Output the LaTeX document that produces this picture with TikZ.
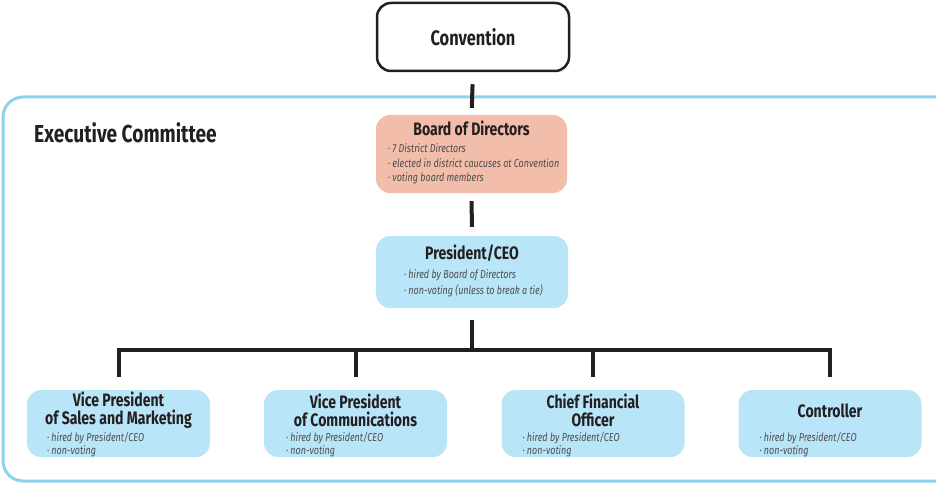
\documentclass[tikz,border=0pt]{standalone}
\usepackage{fontspec}
\setmainfont{Fira Sans}[FakeStretch=0.78]
\usetikzlibrary{positioning}
\definecolor{inkcol}{HTML}{231F20}
\definecolor{notecol}{HTML}{4D4D4D}
\definecolor{framecol}{HTML}{8DD3EE}
\definecolor{boardcol}{HTML}{F2BDAA}
\definecolor{officecol}{HTML}{B9E5F8}
\tikzset{top node/.style={draw=inkcol,line width=2.5pt,fill=white,rounded corners=14pt,minimum width=192pt,minimum height=68pt,font=\bfseries\fontsize{21}{23}\selectfont,text=inkcol},}
\tikzset{board node/.style={fill=boardcol,rounded corners=14pt,minimum width=191pt,minimum height=78pt, inner sep=0pt},}
\tikzset{office node/.style={fill=officecol,rounded corners=14pt,minimum width=183pt,minimum height=67pt, inner sep=0pt},}
\tikzset{box title/.style={font=\bfseries\fontsize{18}{17.5}\selectfont,text=inkcol,align=center,inner sep=0pt},}
\tikzset{box notes/.style={font=\itshape\fontsize{11.5}{14.5}\selectfont,text=notecol,align=left,inner sep=0pt,anchor=north west},}
\tikzset{link/.style={draw=inkcol,line width=4pt},}

\begin{document}
\begin{tikzpicture}[x=1pt,y=-1pt]
     \useasboundingbox (0,0) rectangle (936,484);
     \draw[framecol,line width=3pt,rounded corners=20pt] (3,97) rectangle (960,481);
     \node[font=\bfseries\fontsize{24.5}{26}\selectfont,text=inkcol,anchor=west,inner sep=0pt] (exec) at (34,133) {Executive Committee};

     \node[top node] (conv) at (473,37) {Convention};
     \node[board node] (board) at (471.5,154) {};
     \node[office node,minimum width=192pt,minimum height=72pt] (pres) at (472,272) {};
     \node[office node] (vpsm) at (118.5,423.5) {};
     \node[office node] (vpc) at (355.5,423.5) {};
     \node[office node] (cfo) at (593,423.5) {};
     \node[office node] (ctrl) at (830,423.5) {};

     % titles
     \node[box title] (board t) at ([yshift=-14pt]board.north) {Board of Directors};
     \node[box title] (pres t) at ([yshift=-17pt]pres.north) {President/CEO};
     \node[box title] (vpsm t) at ([yshift=-20.5pt]vpsm.north) {Vice President\\of Sales and Marketing};
     \node[box title] (vpc t) at ([yshift=-20.5pt]vpc.north) {Vice President\\of Communications};
     \node[box title] (cfo t) at ([yshift=-20.5pt]cfo.north) {Chief Financial\\Officer};
     \node[box title] (ctrl t) at ([yshift=-21pt]ctrl.north) {Controller};

     % notes
     \node[box notes] (board n) at ([xshift=12pt,yshift=-29pt]board.north west) {· 7 District Directors\\· elected in district caucuses at Convention\\· voting board members};
     \node[box notes,font=\itshape\fontsize{11.5}{16}\selectfont] (pres n) at ([xshift=28pt,yshift=-34pt]pres.north west) {· hired by Board of Directors\\· non-voting (unless to break a tie)};
     \node[box notes,font=\itshape\fontsize{11.5}{13}\selectfont] (vpsm n) at ([xshift=20pt,yshift=-42pt]vpsm.north west) {· hired by President/CEO\\· non-voting};
     \node[box notes,font=\itshape\fontsize{11.5}{13}\selectfont] (vpc n) at ([xshift=22pt,yshift=-42pt]vpc.north west) {· hired by President/CEO\\· non-voting};
     \node[box notes,font=\itshape\fontsize{11.5}{13}\selectfont] (cfo n) at ([xshift=21pt,yshift=-42pt]cfo.north west) {· hired by President/CEO\\· non-voting};
     \node[box notes,font=\itshape\fontsize{11.5}{13}\selectfont] (ctrl n) at ([xshift=21pt,yshift=-42pt]ctrl.north west) {· hired by President/CEO\\· non-voting};

     \coordinate (bar) at (472,350);
     \path[link]
     (conv.south) edge[shorten <=12pt,shorten >=7pt] (board.north)
     (board.south) edge[shorten <=8pt,shorten >=9pt] (pres.north)
     (pres.south) edge[shorten <=12pt] (bar);
     \draw[link] ([yshift=13pt]vpsm.north) -- ([yshift=40pt]vpsm.north) -| ([yshift=13pt]ctrl.north);
     \draw[link] ([yshift=13pt]vpc.north) -- ([yshift=40pt]vpc.north);
     \draw[link] ([yshift=13pt]cfo.north) -- ([yshift=40pt]cfo.north);
  \end{tikzpicture}
\end{document}
